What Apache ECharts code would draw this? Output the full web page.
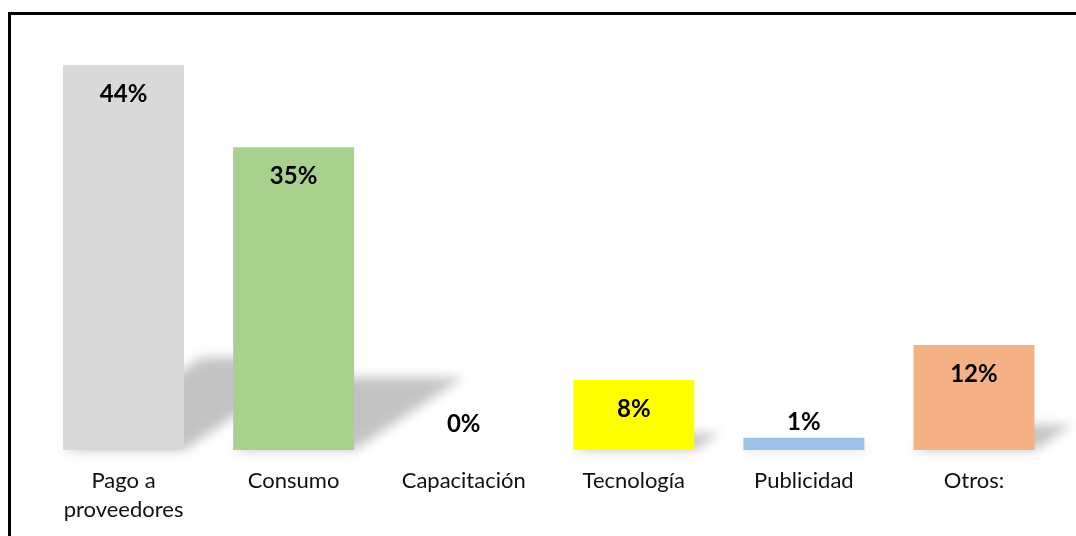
<!DOCTYPE html>
<html>
<head>
<meta charset="utf-8">
<script src="https://cdn.jsdelivr.net/npm/echarts@6/dist/echarts.min.js"></script>
<style>
    html, body { margin: 0; padding: 0; background: #fff; }
    #chart { width: 1076px; height: 536px; }
</style>
</head>
<body>
<div id="chart"></div>
<script>
// data
const categories = ['Pago a\nproveedores', 'Consumo', 'Capacitación', 'Tecnología', 'Publicidad', 'Otros:']
const values = [44, 34.6, 0, 8, 1.4, 12]
const barColors = ['#D9D9D9', '#A9D18E', '#BDD7EE', '#FFFF00', '#9DC3E6', '#F4B183']

const chart = echarts.init(document.getElementById('chart'))

const BAR_RATIO = 121 / 170
const OFF = 3000 // shape drawn off screen, only its blurred shadow lands on the chart

// Excel style perspective shadow, drawn on the same scales as the bars
const shadowItem = (params, api) => {
    const v = api.value(1)
    if (!v) return null
    const base = api.coord([api.value(0), 0])
    const top = api.coord([api.value(0), v])
    const bw = api.size([1, 0])[0] * BAR_RATIO
    const h = base[1] - top[1]
    const s = h * 0.36
    const yt = base[1] - h * 0.24
    const x0 = base[0] - bw / 2 - OFF
    const x1 = base[0] + bw / 2 - OFF
    return {
        type: 'polygon',
        shape: { points: [[x0, base[1]], [x1, base[1]], [x1 + s, yt], [x0 + s, yt]] },
        style: {
            fill: '#000',
            shadowBlur: 12,
            shadowOffsetX: OFF,
            shadowColor: 'rgba(0,0,0,0.24)'
        }
    }
}

const barData = values.map((v, i) => {
    const small = v < 5
    return {
        value: v,
        itemStyle: { color: barColors[i] },
        label: small
            ? { position: 'top', distance: v === 0 ? 14 : 3 }
            : { position: 'insideTop', distance: 17 }
    }
})

const option = {
    animation: false,
    backgroundColor: '#fff',
    graphic: [
        {
            type: 'rect',
            shape: { x: 9.5, y: 13.5, width: 1200, height: 700 },
            style: { fill: 'none', stroke: '#000', lineWidth: 3 },
            z: 100
        }
    ],
    grid: {
        left: 38.5,
        right: 17,
        top: 12.5,
        bottom: 86
    },
    xAxis: {
        type: 'category',
        data: categories,
        axisLine: { show: false },
        axisTick: { show: false },
        axisLabel: {
            interval: 0,
            margin: 16,
            color: '#111',
            fontFamily: 'Lato',
            fontSize: 22,
            lineHeight: 29
        }
    },
    yAxis: {
        type: 'value',
        min: 0,
        max: 50,
        show: false,
        splitLine: { show: false }
    },
    series: [
        {
            type: 'custom',
            renderItem: shadowItem,
            data: values.map((v, i) => [i, v]),
            z: 1,
            clip: false,
            silent: true
        },
        {
            type: 'bar',
            data: barData,
            barWidth: 121,
            z: 2,
            label: {
                show: true,
                color: '#000',
                fontFamily: 'Lato',
                fontWeight: 'bold',
                fontSize: 24,
                formatter: (p) => Math.round(p.value) + '%'
            }
        }
    ]
}

chart.setOption(option)
</script>
</body>
</html>
